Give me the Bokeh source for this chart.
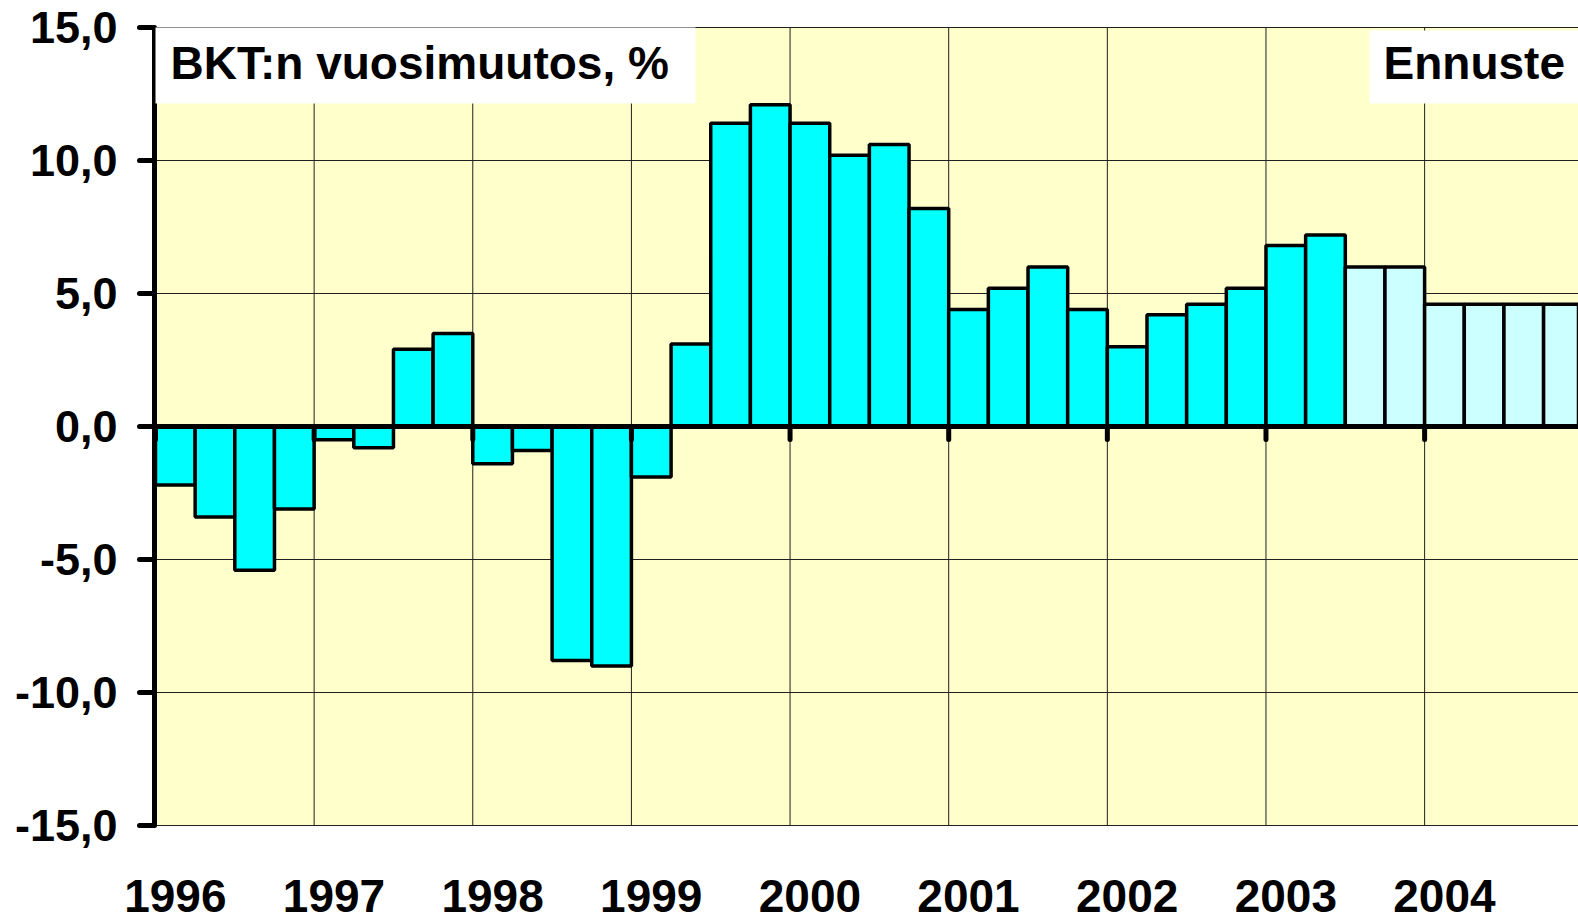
from bokeh.plotting import figure
from bokeh.models import Range1d, ColumnDataSource
from bokeh.core.properties import value
from bokeh.embed import file_html
from bokeh.resources import INLINE

# ---- data ----
years = [1996, 1997, 1998, 1999, 2000, 2001, 2002, 2003, 2004]
growth = [
    -2.2, -3.4, -5.4, -3.1,   # 1996
    -0.5, -0.8, 2.9, 3.5,     # 1997
    -1.4, -0.9, -8.8, -9.0,   # 1998
    -1.9, 3.1, 11.4, 12.1,    # 1999
    11.4, 10.2, 10.6, 8.2,    # 2000
    4.4, 5.2, 6.0, 4.4,       # 2001
    3.0, 4.2, 4.6, 5.2,       # 2002
    6.8, 7.2, 6.0, 6.0,       # 2003
    4.6, 4.6, 4.6, 4.6,       # 2004
]
is_forecast = [False] * 30 + [True] * 6
y_ticks = [-15, -10, -5, 0, 5, 10, 15]
y_tick_labels = ["-15,0", "-10,0", "-5,0", "0,0", "5,0", "10,0", "15,0"]
title_text = "BKT:n vuosimuutos, %"
forecast_text = "Ennuste"

FONT = "Liberation Sans"
ACTUAL = "#00FFFF"
FCAST = "#CCFFFF"
PLOT_BG = "#FFFFCC"
GRID = "#202020"

# ---- geometry (pixels -> data units) ----
W, H = 1578, 918
LEFT_PX, TOP_PX = 155, 27          # position of the value area
PX_PER_Q, PX_PER_UNIT = 39.66, 26.6
y_lo, y_hi = min(y_ticks), max(y_ticks)
x_start = -LEFT_PX / PX_PER_Q
x_end = (W - LEFT_PX) / PX_PER_Q
y_top = y_hi + TOP_PX / PX_PER_UNIT
y_bottom = y_hi - (H - TOP_PX) / PX_PER_UNIT
px_x = 1.0 / PX_PER_Q
px_y = 1.0 / PX_PER_UNIT

n = len(growth)
qpos = [i + 0.5 for i in range(n)]
colors = [FCAST if f else ACTUAL for f in is_forecast]
src = ColumnDataSource(dict(x=qpos, top=growth, color=colors))

p = figure(width=W, height=H, output_backend="svg", toolbar_location=None,
           x_range=Range1d(x_start, x_end), y_range=Range1d(y_bottom, y_top),
           x_axis_location=None, y_axis_location=None,
           min_border=0)
p.background_fill_color = "white"
p.border_fill_color = "white"
p.outline_line_color = None
p.grid.visible = False

# plot area background
p.quad(left=[0], right=[x_end + 1], bottom=[y_lo], top=[y_hi],
       fill_color=PLOT_BG, line_color=None)

# grid lines
year_bounds = [4 * k for k in range(len(years) + 1)]
p.segment(x0=year_bounds, y0=[y_lo] * len(year_bounds), x1=year_bounds,
          y1=[y_hi] * len(year_bounds), line_color=GRID, line_width=1)
p.segment(x0=[0] * len(y_ticks), y0=y_ticks, x1=[x_end + 1] * len(y_ticks),
          y1=y_ticks, line_color=GRID, line_width=1)

# bars
p.vbar(x="x", top="top", bottom=0, width=1.0, source=src,
       fill_color="color", line_color="black", line_width=3.5)

# zero line and year ticks on it
p.segment(x0=[0], y0=[0], x1=[x_end + 1], y1=[0], line_color="black", line_width=5)
p.segment(x0=year_bounds, y0=[0] * len(year_bounds), x1=year_bounds,
          y1=[-13 * px_y] * len(year_bounds), line_color="black", line_width=5,
          line_cap="round")

# value axis: line, ticks, labels
p.segment(x0=[-1 * px_x], y0=[y_lo], x1=[-1 * px_x], y1=[y_hi],
          line_color="black", line_width=5)
p.segment(x0=[-1 * px_x] * len(y_ticks), y0=y_ticks,
          x1=[-16 * px_x] * len(y_ticks), y1=y_ticks,
          line_color="black", line_width=5, line_cap="round")
p.text(x=[-38 * px_x] * len(y_ticks), y=y_ticks, text=y_tick_labels,
       text_font=value(FONT), text_font_style="bold", text_font_size="45px",
       text_color="black", text_align="right", text_baseline="middle")

# year labels
label_pos = [4 * k + 0.5 for k in range(len(years))]
p.text(x=label_pos, y=[y_lo - 70 * px_y] * len(years), text=[str(y) for y in years],
       text_font=value(FONT), text_font_style="bold", text_font_size="46px",
       text_color="black", text_align="center", text_baseline="middle")

# white boxes with texts
p.quad(left=[0], right=[(695 - LEFT_PX) * px_x], top=[y_hi],
       bottom=[y_hi - 76 * px_y], fill_color="white", line_color=None)
p.quad(left=[(1369 - LEFT_PX) * px_x], right=[x_end + 1],
       top=[y_hi - 3 * px_y], bottom=[y_hi - 76 * px_y],
       fill_color="white", line_color=None)
p.text(x=[15 * px_x], y=[y_hi - 35 * px_y], text=[title_text],
       text_font=value(FONT), text_font_style="bold", text_font_size="46px",
       text_color="black", text_align="left", text_baseline="middle")
p.text(x=[(1383 - LEFT_PX) * px_x], y=[y_hi - 35 * px_y], text=[forecast_text],
       text_font=value(FONT), text_font_style="bold", text_font_size="46px",
       text_color="black", text_align="left", text_baseline="middle")

open("out.html", "w").write(file_html(p, INLINE))
